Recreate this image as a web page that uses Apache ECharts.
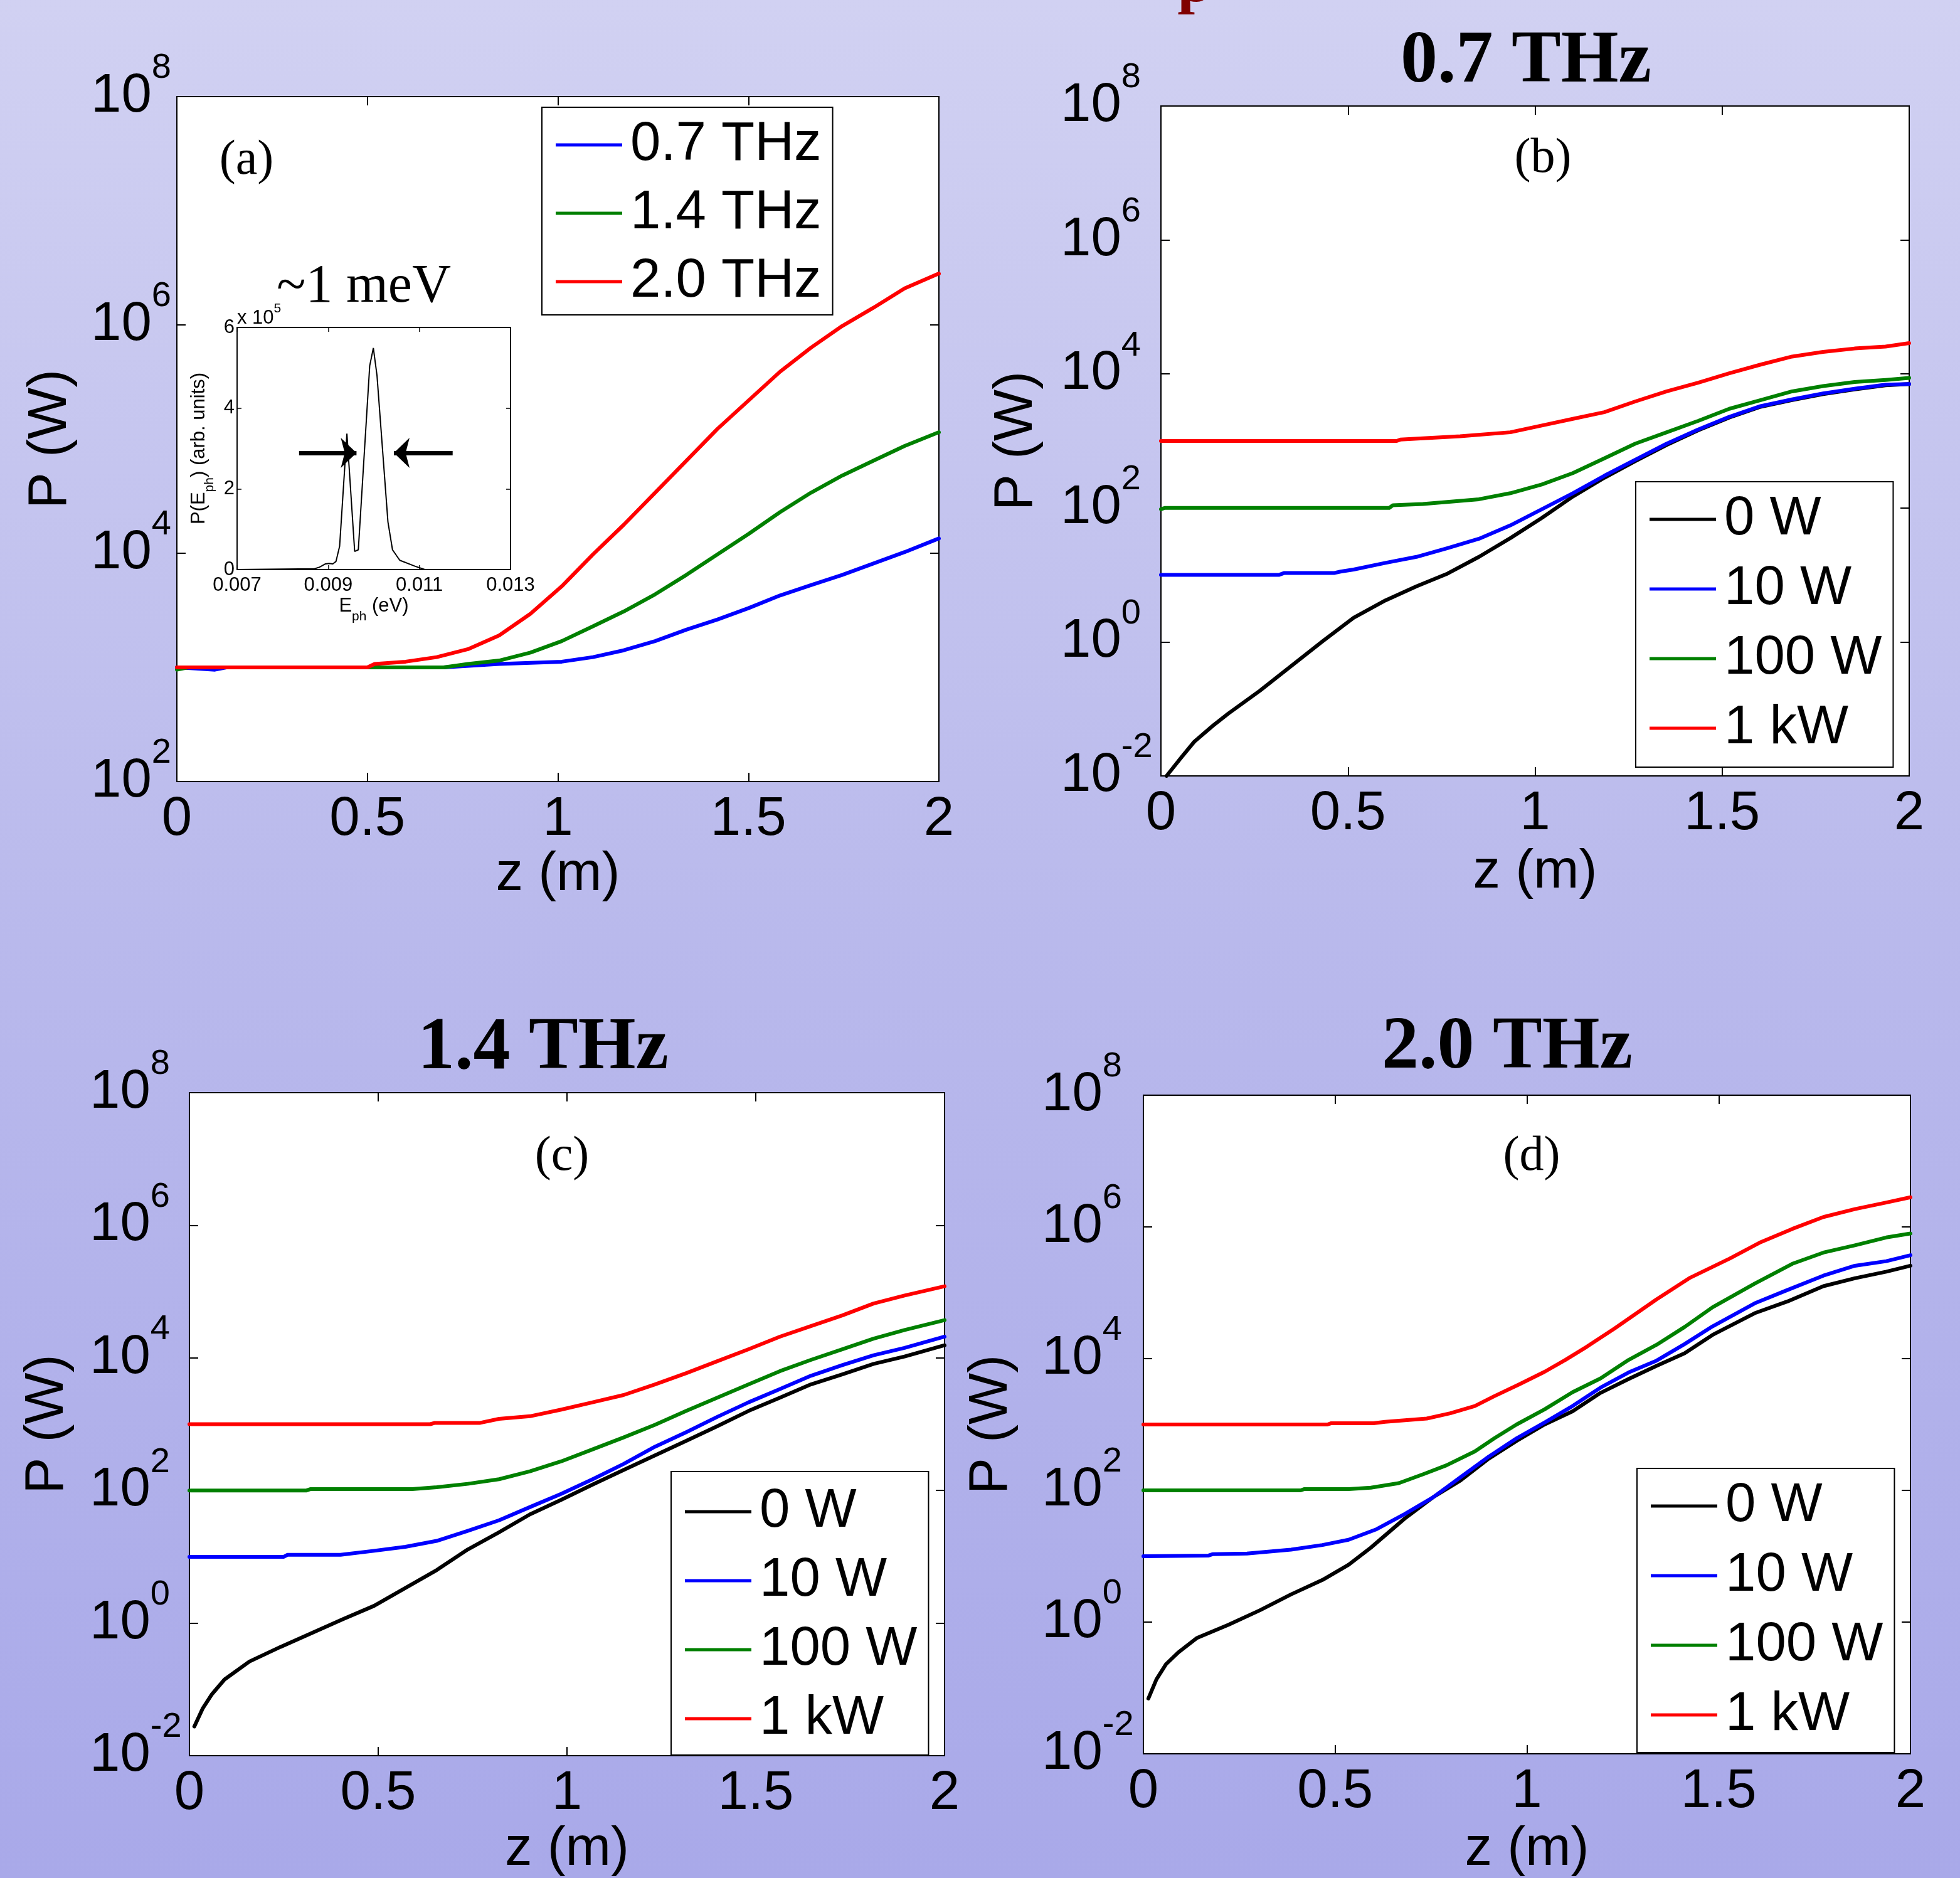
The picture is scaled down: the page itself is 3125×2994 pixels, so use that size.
<!DOCTYPE html>
<html><head><meta charset="utf-8">
<script src="https://cdn.jsdelivr.net/npm/echarts@6/dist/echarts.min.js"></script>
<style>html,body{margin:0;padding:0;overflow:hidden}#c{width:3125px;height:2994px}</style>
</head><body><div id="c"></div>
<script>
// ---------- DATA: [z (m), log10 P (W)] ----------
const a_07THz = [[0,3.0],[0.05,2.99],[0.1,2.98],[0.13,3.0],[0.7,3.0],[0.846,3.03],[1.01,3.05],[1.092,3.09],[1.173,3.15],[1.255,3.23],[1.337,3.33],[1.419,3.42],[1.501,3.52],[1.583,3.63],[1.664,3.72],[1.746,3.81],[1.828,3.91],[1.91,4.01],[2.0,4.13]];
const a_14THz = [[0,2.98],[0.03,3.0],[0.7,3.0],[0.764,3.03],[0.846,3.06],[0.928,3.13],[1.01,3.23],[1.092,3.36],[1.173,3.49],[1.255,3.64],[1.337,3.81],[1.419,3.99],[1.501,4.17],[1.583,4.36],[1.664,4.53],[1.746,4.68],[1.828,4.81],[1.91,4.94],[2.0,5.06]];
const a_20THz = [[0,3.0],[0.5,3.0],[0.519,3.03],[0.6,3.05],[0.682,3.09],[0.764,3.16],[0.846,3.28],[0.928,3.47],[1.01,3.71],[1.092,3.99],[1.173,4.25],[1.255,4.53],[1.337,4.81],[1.419,5.09],[1.501,5.34],[1.583,5.59],[1.664,5.80],[1.746,5.99],[1.828,6.15],[1.91,6.32],[2.0,6.45]];

const b_0W   = [[0.015,-2.0],[0.055,-1.72],[0.089,-1.49],[0.139,-1.25],[0.18,-1.07],[0.264,-0.73],[0.348,-0.36],[0.432,0.01],[0.515,0.36],[0.6,0.62],[0.683,0.83],[0.766,1.02],[0.85,1.27],[0.934,1.55],[1.018,1.85],[1.101,2.17],[1.185,2.45],[1.268,2.70],[1.352,2.94],[1.436,3.16],[1.519,3.35],[1.603,3.51],[1.687,3.61],[1.77,3.70],[1.854,3.77],[1.937,3.83],[2.0,3.85]];
const b_10W  = [[0,1.0],[0.315,1.0],[0.33,1.03],[0.464,1.03],[0.48,1.05],[0.515,1.08],[0.6,1.18],[0.683,1.27],[0.766,1.40],[0.85,1.54],[0.934,1.74],[1.018,1.98],[1.101,2.22],[1.185,2.48],[1.268,2.72],[1.352,2.96],[1.436,3.17],[1.519,3.36],[1.603,3.52],[1.687,3.62],[1.77,3.71],[1.854,3.78],[1.937,3.84],[2.0,3.85]];
const b_100W = [[0,1.98],[0.01,2.0],[0.61,2.0],[0.62,2.04],[0.70,2.06],[0.85,2.13],[0.934,2.22],[1.018,2.35],[1.101,2.52],[1.185,2.74],[1.268,2.96],[1.352,3.13],[1.436,3.30],[1.519,3.48],[1.603,3.61],[1.687,3.74],[1.77,3.82],[1.854,3.88],[1.937,3.91],[2.0,3.94]];
const b_1kW  = [[0,3.0],[0.63,3.0],[0.64,3.02],[0.8,3.07],[0.934,3.13],[1.018,3.23],[1.101,3.33],[1.185,3.43],[1.268,3.59],[1.352,3.74],[1.436,3.87],[1.519,4.01],[1.603,4.14],[1.687,4.26],[1.77,4.33],[1.854,4.38],[1.937,4.41],[2.0,4.46]];

const c_0W   = [[0.013,-1.56],[0.035,-1.29],[0.06,-1.07],[0.093,-0.85],[0.159,-0.58],[0.241,-0.36],[0.324,-0.15],[0.407,0.06],[0.489,0.26],[0.572,0.53],[0.655,0.80],[0.737,1.11],[0.82,1.37],[0.902,1.64],[0.985,1.86],[1.068,2.09],[1.15,2.31],[1.233,2.53],[1.316,2.75],[1.398,2.97],[1.481,3.20],[1.564,3.40],[1.646,3.60],[1.729,3.75],[1.812,3.91],[1.894,4.02],[2.0,4.19]];
const c_10W  = [[0,1.0],[0.25,1.0],[0.26,1.03],[0.4,1.03],[0.489,1.09],[0.572,1.15],[0.655,1.24],[0.737,1.39],[0.82,1.55],[0.902,1.75],[0.985,1.95],[1.068,2.17],[1.15,2.40],[1.233,2.66],[1.316,2.88],[1.398,3.11],[1.481,3.33],[1.564,3.53],[1.646,3.73],[1.729,3.89],[1.812,4.04],[1.894,4.15],[2.0,4.32]];
const c_100W = [[0,2.0],[0.31,2.0],[0.32,2.02],[0.59,2.02],[0.655,2.05],[0.737,2.10],[0.82,2.17],[0.902,2.29],[0.985,2.44],[1.068,2.62],[1.15,2.80],[1.233,2.99],[1.316,3.20],[1.398,3.40],[1.481,3.60],[1.564,3.80],[1.646,3.97],[1.729,4.13],[1.812,4.29],[1.894,4.42],[2.0,4.57]];
const c_1kW  = [[0,3.0],[0.638,3.0],[0.65,3.02],[0.77,3.02],[0.82,3.08],[0.902,3.12],[0.985,3.22],[1.068,3.33],[1.15,3.44],[1.233,3.60],[1.316,3.77],[1.398,3.95],[1.481,4.13],[1.564,4.32],[1.646,4.48],[1.729,4.64],[1.812,4.82],[1.894,4.94],[2.0,5.08]];

const d_0W   = [[0.013,-1.16],[0.034,-0.87],[0.059,-0.64],[0.091,-0.46],[0.14,-0.24],[0.222,-0.04],[0.304,0.18],[0.385,0.42],[0.467,0.64],[0.535,0.87],[0.593,1.13],[0.681,1.57],[0.754,1.89],[0.827,2.15],[0.9,2.48],[0.973,2.75],[1.046,3.0],[1.119,3.20],[1.192,3.48],[1.265,3.69],[1.338,3.89],[1.411,4.08],[1.484,4.36],[1.594,4.69],[1.68,4.87],[1.773,5.10],[1.855,5.22],[1.937,5.32],[2.0,5.41]];
const d_10W  = [[0,1.0],[0.17,1.01],[0.18,1.03],[0.27,1.04],[0.385,1.10],[0.467,1.17],[0.535,1.25],[0.608,1.41],[0.681,1.64],[0.754,1.89],[0.827,2.20],[0.9,2.51],[0.973,2.79],[1.046,3.03],[1.119,3.28],[1.192,3.56],[1.265,3.79],[1.338,3.97],[1.411,4.22],[1.484,4.49],[1.594,4.84],[1.674,5.03],[1.773,5.26],[1.855,5.41],[1.937,5.48],[2.0,5.57]];
const d_100W = [[0,2.0],[0.41,2.0],[0.42,2.02],[0.535,2.02],[0.593,2.04],[0.666,2.11],[0.732,2.25],[0.79,2.38],[0.864,2.59],[0.915,2.79],[0.973,3.0],[1.046,3.23],[1.119,3.49],[1.192,3.70],[1.265,3.98],[1.338,4.21],[1.411,4.48],[1.484,4.78],[1.594,5.14],[1.692,5.44],[1.773,5.61],[1.855,5.72],[1.937,5.84],[2.0,5.90]];
const d_1kW  = [[0,3.0],[0.48,3.0],[0.49,3.02],[0.6,3.02],[0.63,3.04],[0.739,3.09],[0.80,3.17],[0.864,3.28],[0.915,3.43],[0.98,3.61],[1.046,3.80],[1.10,3.98],[1.156,4.18],[1.229,4.46],[1.338,4.90],[1.426,5.23],[1.529,5.52],[1.61,5.77],[1.692,5.97],[1.773,6.15],[1.855,6.27],[1.937,6.37],[2.0,6.45]];

// inset: photon energy spectrum (eV, x 10^5 arb. units)
const inset_E = [0.007,0.0087,0.00881,0.00894,0.00902,0.0091,0.00917,0.00925,0.00941,0.00958,0.00966,0.00991,0.00999,0.01007,0.01031,0.01041,0.01057,0.01091,0.01112,0.01239];
const inset_P = [0,0.02,0.06,0.14,0.15,0.14,0.2,0.58,3.37,0.45,0.49,5.05,5.49,4.81,1.18,0.49,0.23,0.08,0,0];
const inset_arrowY = 2.89;
const inset_arrowLeft = [0.00836, 0.00962];
const inset_arrowRight = [0.01173, 0.01044];

const legendA = ['0.7 THz','1.4 THz','2.0 THz'];
const legendP = ['0 W','10 W','100 W','1 kW'];
const panelTitles = ['0.7 THz','1.4 THz','2.0 THz'];
const panelTags = ['(a)','(b)','(c)','(d)'];

// ---------- STYLE / LAYOUT ----------
const SANS = '"Liberation Sans", Arial, Helvetica, sans-serif';
const SERIF = '"Liberation Serif", "Times New Roman", serif';
const BLACK='#000000', BLUE='#0000ff', GREEN='#008000', RED='#ff0000';

const panels = [
  {grid:{left:282,top:154,width:1215,height:1092}, ymin:2,  xNameGap:80,  yNameGap:157, yLabelMargin:137,
   series:[[legendA[0],a_07THz,BLUE],[legendA[1],a_14THz,GREEN],[legendA[2],a_20THz,RED]]},
  {grid:{left:1851,top:169,width:1193,height:1068}, ymin:-2, xNameGap:111, yNameGap:186, yLabelMargin:160,
   series:[[legendP[0],b_0W,BLACK],[legendP[1],b_10W,BLUE],[legendP[2],b_100W,GREEN],[legendP[3],b_1kW,RED]]},
  {grid:{left:302,top:1742,width:1204,height:1073}, ymin:-2, xNameGap:107, yNameGap:182, yLabelMargin:159,
   series:[[legendP[0],c_0W,BLACK],[legendP[1],c_10W,BLUE],[legendP[2],c_100W,GREEN],[legendP[3],c_1kW,RED]]},
  {grid:{left:1823,top:1746,width:1223,height:1066}, ymin:-2, xNameGap:110, yNameGap:198, yLabelMargin:162,
   series:[[legendP[0],d_0W,BLACK],[legendP[1],d_10W,BLUE],[legendP[2],d_100W,GREEN],[legendP[3],d_1kW,RED]]}
];
const insetGrid = {left:378, top:522, width:436, height:386};

const lineBlk = {color:'#000', width:2};
const txt = (size, extra) => Object.assign({fontSize:size, fontFamily:SANS, color:'#000'}, extra||{});

const option = {
  animation:false,
  backgroundColor:{type:'linear',x:0,y:0,x2:0,y2:1,colorStops:[{offset:0,color:'#d1d1f2'},{offset:0.5,color:'#b9b9ec'},{offset:1,color:'#a9a9e9'}]},
  grid:[], xAxis:[], yAxis:[], series:[], legend:[], graphic:[]
};

panels.forEach((p,i)=>{
  option.grid.push(Object.assign({show:true, backgroundColor:'#fff', borderColor:'#000', borderWidth:2}, p.grid));
  const tick = {show:true, inside:true, length:14, lineStyle:lineBlk};
  option.xAxis.push({gridIndex:i, type:'value', position:'bottom', min:0, max:2, interval:0.5,
    axisLine:{show:true,onZero:false,lineStyle:lineBlk}, axisTick:tick,
    axisLabel:txt(87,{margin:18}), splitLine:{show:false},
    name:'z (m)', nameLocation:'middle', nameGap:p.xNameGap, nameTextStyle:txt(87)});
  option.xAxis.push({gridIndex:i, type:'value', position:'top', min:0, max:2, interval:0.5,
    axisLine:{show:true,onZero:false,lineStyle:lineBlk}, axisTick:tick, axisLabel:{show:false}, splitLine:{show:false}});
  option.yAxis.push({gridIndex:i, type:'value', position:'left', min:p.ymin, max:8, interval:2,
    axisLine:{show:true,onZero:false,lineStyle:lineBlk}, axisTick:tick,
    axisLabel:{margin:p.yLabelMargin, align:'left', formatter:v=>'{b|10}{s|'+v+'}',
      rich:{b:txt(87,{lineHeight:146,verticalAlign:'middle'}), s:txt(56,{lineHeight:56,verticalAlign:'top'})}},
    splitLine:{show:false},
    name:'P (W)', nameLocation:'middle', nameGap:p.yNameGap, nameTextStyle:txt(87)});
  option.yAxis.push({gridIndex:i, type:'value', position:'right', min:p.ymin, max:8, interval:2,
    axisLine:{show:true,onZero:false,lineStyle:lineBlk}, axisTick:tick, axisLabel:{show:false}, splitLine:{show:false}});
  p.series.forEach(([name,data,color])=>{
    option.series.push({type:'line', name, xAxisIndex:2*i, yAxisIndex:2*i, data, showSymbol:false, symbol:'none',
      itemStyle:{color}, lineStyle:{color, width:6, cap:'round', join:'round'}, emphasis:{disabled:true}, z:3});
  });
});

// inset
option.grid.push(Object.assign({show:true, backgroundColor:'#fff', borderColor:'#000', borderWidth:1.5, z:4}, insetGrid));
const itick = {show:true, inside:true, length:7, lineStyle:{color:'#000',width:1.5}};
const iline = {show:true,onZero:false,lineStyle:{color:'#000',width:1.5}};
const subRich = {n:txt(31,{lineHeight:31,verticalAlign:'top'}), sub:txt(21,{lineHeight:43,verticalAlign:'bottom'})};
option.xAxis.push({gridIndex:4, type:'value', position:'bottom', min:0.007, max:0.013, interval:0.002, z:5,
  axisLine:iline, axisTick:itick, axisLabel:txt(31,{margin:10, formatter:v=>v.toFixed(3)}), splitLine:{show:false},
  name:'{n|E}{sub|ph}{n| (eV)}', nameLocation:'middle', nameGap:43, nameTextStyle:{rich:subRich}});
option.xAxis.push({gridIndex:4, type:'value', position:'top', min:0.007, max:0.013, interval:0.002, z:5,
  axisLine:iline, axisTick:itick, axisLabel:{show:false}, splitLine:{show:false}});
option.yAxis.push({gridIndex:4, type:'value', position:'left', min:0, max:6, interval:2, z:5,
  axisLine:iline, axisTick:itick, axisLabel:txt(31,{margin:4}), splitLine:{show:false},
  name:'{n|P(E}{sub|ph}{n|) (arb. units)}', nameLocation:'middle', nameGap:33, nameTextStyle:{rich:subRich}});
option.yAxis.push({gridIndex:4, type:'value', position:'right', min:0, max:6, interval:2, z:5,
  axisLine:iline, axisTick:itick, axisLabel:{show:false}, splitLine:{show:false}});
option.yAxis.push({gridIndex:4, type:'value', position:'left', min:0, max:6, interval:2, z:5,
  axisLine:{show:false}, axisTick:{show:false}, axisLabel:{show:false}, splitLine:{show:false},
  name:'{a|x 10}{s|5}', nameLocation:'end', nameGap:15,
  nameTextStyle:{align:'left', verticalAlign:'middle', rich:{a:txt(31,{lineHeight:50,verticalAlign:'middle'}), s:txt(21,{lineHeight:21,verticalAlign:'top'})}}});
option.series.push({type:'line', name:'spectrum', xAxisIndex:8, yAxisIndex:8, z:6,
  data: inset_E.map((e,k)=>[e, inset_P[k]]), showSymbol:false, symbol:'none',
  lineStyle:{color:'#000', width:2}, itemStyle:{color:'#000'}, emphasis:{disabled:true},
  markLine:{silent:true, animation:false, symbol:['none','arrow'], symbolSize:[36,25], label:{show:false},
    lineStyle:{color:'#000', width:7, type:'solid'}, emphasis:{disabled:true},
    data:[[{coord:[inset_arrowLeft[0],inset_arrowY]},{coord:[inset_arrowLeft[1],inset_arrowY]}],
          [{coord:[inset_arrowRight[0],inset_arrowY]},{coord:[inset_arrowRight[1],inset_arrowY]}]]}});

// legends
const legendBase = {orient:'vertical', align:'left', icon:'rect', itemWidth:106, itemHeight:5,
  backgroundColor:'#fff', borderColor:'#000', borderWidth:2, borderRadius:0, selectedMode:false,
  itemStyle:{borderWidth:0}, textStyle:txt(87,{lineHeight:90, padding:[0,0,0,8]}), z:10};
option.legend.push(Object.assign({}, legendBase, {left:864, top:171, padding:[15,18,8,22], itemGap:19, data:legendA}));
option.legend.push(Object.assign({}, legendBase, {left:2608, top:768, padding:[15,18,17,22], itemGap:21, data:legendP}));
option.legend.push(Object.assign({}, legendBase, {left:1070, top:2346, padding:[19,18,13,22], itemGap:20, data:legendP}));
option.legend.push(Object.assign({}, legendBase, {left:2610, top:2341, padding:[15,18,15,22], itemGap:21, data:legendP}));

// text annotations
const T = (text, x, y, size, family, weight, fill) => ({type:'text', x, y, z:20,
  style:{text, fontSize:size, fontFamily:family, fontWeight:weight, fill, align:'center', verticalAlign:'middle', textAlign:'center', textVerticalAlign:'middle'}});
option.graphic = [
  T('p', 1905, -24, 100, SERIF, 'bold', '#800000'),
  T(panelTitles[0], 2433, 100, 118, SERIF, 'bold', '#000'),
  T(panelTitles[1], 866, 1673, 118, SERIF, 'bold', '#000'),
  T(panelTitles[2], 2403, 1672, 118, SERIF, 'bold', '#000'),
  T(panelTags[0], 393, 257, 78, SERIF, 'normal', '#000'),
  T(panelTags[1], 2460, 254, 78, SERIF, 'normal', '#000'),
  T(panelTags[2], 896, 1845, 78, SERIF, 'normal', '#000'),
  T(panelTags[3], 2442, 1845, 78, SERIF, 'normal', '#000'),
  T('~1 meV', 580, 458, 86, SERIF, 'normal', '#000')
];

const chart = echarts.init(document.getElementById('c'), null, {renderer:'canvas', width:3125, height:2994});
chart.setOption(option);
</script></body></html>
